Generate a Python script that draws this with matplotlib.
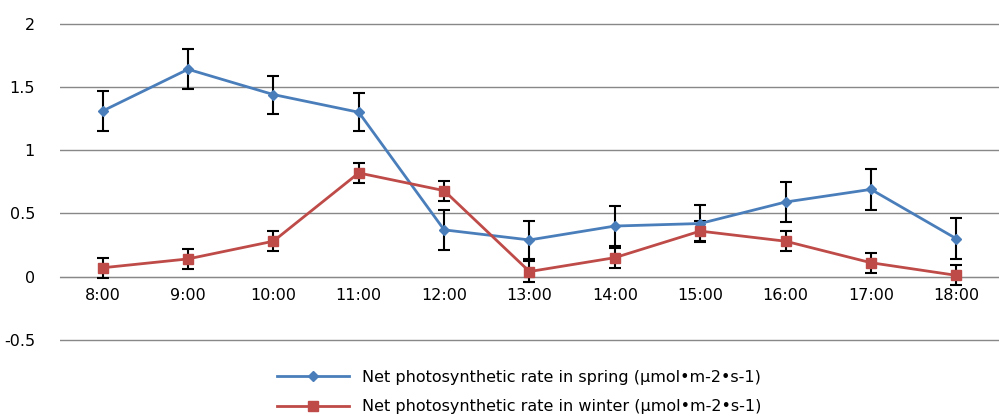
import numpy as np
import matplotlib.pyplot as plt
from matplotlib.lines import Line2D

times = ['8:00', '9:00', '10:00', '11:00', '12:00', '13:00', '14:00', '15:00', '16:00', '17:00', '18:00']
spring = [1.31, 1.64, 1.44, 1.30, 0.37, 0.29, 0.40, 0.42, 0.59, 0.69, 0.30]
spring_err = [0.16, 0.16, 0.15, 0.15, 0.16, 0.15, 0.16, 0.15, 0.16, 0.16, 0.16]
winter = [0.07, 0.14, 0.28, 0.82, 0.68, 0.04, 0.15, 0.36, 0.28, 0.11, 0.01]
winter_err = [0.08, 0.08, 0.08, 0.08, 0.08, 0.08, 0.08, 0.08, 0.08, 0.08, 0.08]
lab_spring = 'Net photosynthetic rate in spring (μmol•m-2•s-1)'
lab_winter = 'Net photosynthetic rate in winter (μmol•m-2•s-1)'

fig = plt.figure(figsize=(9.99, 4.16), dpi=100)
ax = fig.add_axes([0.06, 0.177, 0.94, 0.772])
x = np.arange(len(times))

ax.errorbar(x, spring, yerr=spring_err, color='#4a7ebb', marker='D', markersize=5,
            linewidth=2, ecolor='black', elinewidth=1.5, capsize=4, capthick=1.5, zorder=3)
ax.errorbar(x, winter, yerr=winter_err, color='#be4b48', marker='s', markersize=7,
            linewidth=2, ecolor='black', elinewidth=1.5, capsize=4, capthick=1.5, zorder=3)

ax.set_ylim(-0.52, 2.02)
ax.set_xlim(-0.5, 10.5)
ax.set_yticks([-0.5, 0, 0.5, 1, 1.5, 2])
ax.set_yticklabels(['-0.5', '0', '0.5', '1', '1.5', '2'])
ax.set_xticks(x)
ax.set_xticklabels(times)
ax.grid(axis='y', color='#888888', linewidth=1)
ax.set_axisbelow(True)
for s in ['top', 'right', 'left']:
    ax.spines[s].set_visible(False)
ax.spines['bottom'].set_position(('data', 0))
ax.spines['bottom'].set_color('#888888')
ax.tick_params(axis='both', length=0, labelsize=11.5)
ax.tick_params(axis='y', pad=18)
ax.tick_params(axis='x', pad=8)

handles = [Line2D([], [], color='#4a7ebb', marker='D', markersize=5, linewidth=2),
           Line2D([], [], color='#be4b48', marker='s', markersize=7, linewidth=2)]
fig.legend(handles, [lab_spring, lab_winter], loc='lower center',
           bbox_to_anchor=(0.52, -0.03), frameon=False,
           fontsize=11.5, handlelength=4.5, labelspacing=0.9)
fig.savefig('out.png', dpi=100)
